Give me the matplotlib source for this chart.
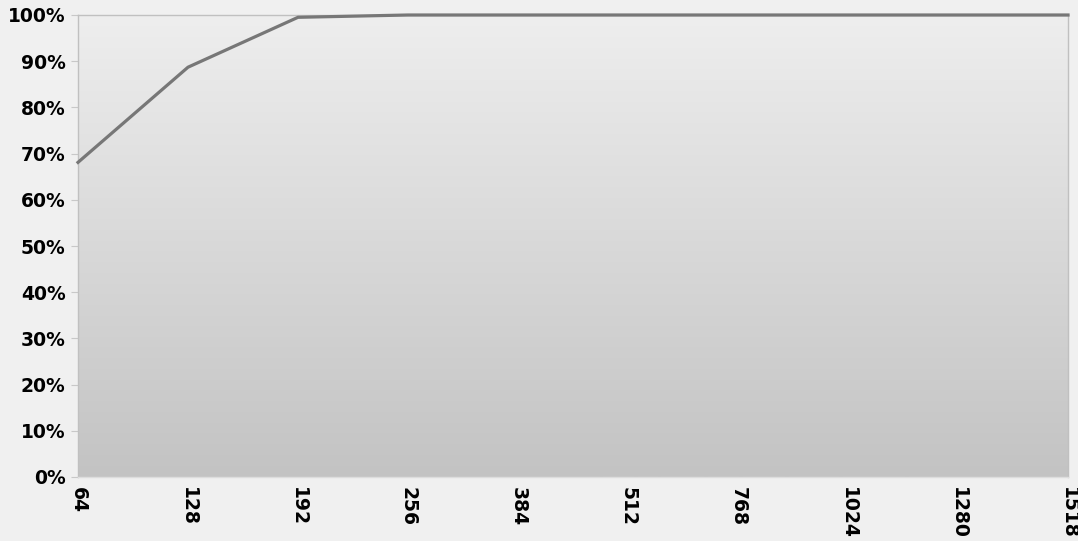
import numpy as np
import matplotlib.pyplot as plt
from matplotlib.colors import LinearSegmentedColormap
from matplotlib.ticker import PercentFormatter

sizes = ["64", "128", "192", "256", "384", "512", "768", "1024", "1280", "1518"]
share = [68.1, 88.7, 99.5, 100, 100, 100, 100, 100, 100, 100]
y_ticks = list(range(0, 101, 10))

plt.rcParams["font.family"] = ["DejaVu Sans"]

fig = plt.figure(figsize=(10.78, 5.41), dpi=100, facecolor="#f0f0f0")
ax = fig.add_axes([78 / 1078, 1 - 477 / 541, 990 / 1078, 462 / 541])

# vertical gradient background of the plot area
grad = np.linspace(0, 1, 256).reshape(-1, 1)
cmap = LinearSegmentedColormap.from_list("g", ["#eeeeee", "#c3c3c3"])
ax.imshow(grad, cmap=cmap, extent=[0, 1, 0, 1], transform=ax.transAxes,
          aspect="auto", zorder=0)

x = np.arange(len(sizes))
ax.plot(x, share, color="#777777", linewidth=2.3, zorder=3, clip_on=False)

ax.set_xlim(0, len(sizes) - 1)
ax.set_ylim(0, 100)
ax.set_xticks(x)
ax.set_xticklabels(sizes, rotation=270, fontsize=13.5, fontweight="bold",
                   va="top", ha="center")
ax.set_yticks(y_ticks)
ax.yaxis.set_major_formatter(PercentFormatter(decimals=0))
for lbl in ax.get_yticklabels():
    lbl.set_fontsize(13.5)
    lbl.set_fontweight("bold")

ax.tick_params(axis="y", length=5, color="#c8c8c8", pad=4)
ax.tick_params(axis="x", length=0, pad=7)

for side in ["left", "right", "top", "bottom"]:
    ax.spines[side].set_color("#c0c0c0")
    ax.spines[side].set_linewidth(1)
ax.spines["bottom"].set_color("#dddddd")

fig.savefig("out.png", dpi=100, facecolor=fig.get_facecolor())
